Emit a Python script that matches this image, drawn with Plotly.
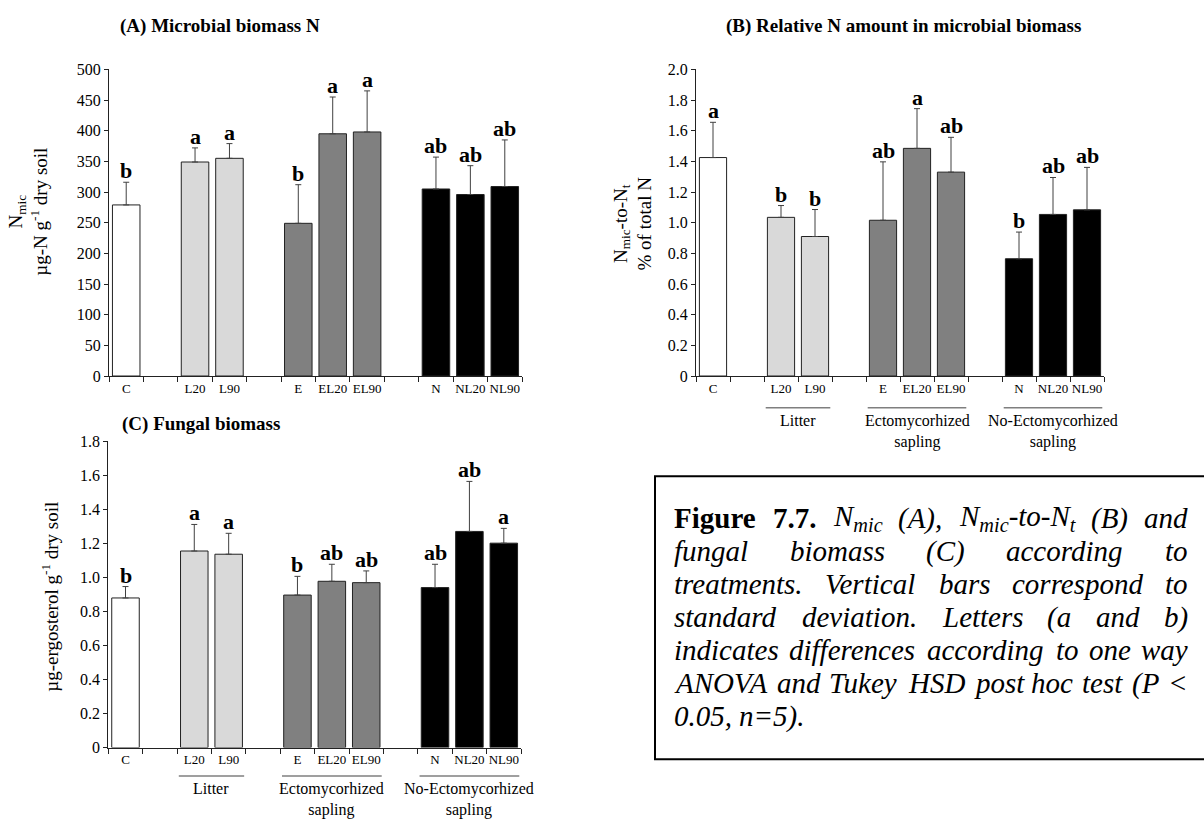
import plotly.graph_objects as go

# ---------------- data ----------------
categories = ["C", " ", "L20", "L90", "  ", "E", "EL20", "EL90", "   ", "N", "NL20", "NL90"]
treatments = ["C", "L20", "L90", "E", "EL20", "EL90", "N", "NL20", "NL90"]
bar_colors = ["#ffffff", "#d9d9d9", "#d9d9d9", "#808080", "#808080", "#808080",
              "#000000", "#000000", "#000000"]

nmic_mean = [279, 349, 355, 249, 395, 398, 305, 296, 309]
nmic_sd = [37, 23, 24, 63, 60, 67, 52, 47, 76]
nmic_letters = ["b", "a", "a", "b", "a", "a", "ab", "ab", "ab"]

ratio_mean = [1.425, 1.035, 0.91, 1.016, 1.485, 1.33, 0.765, 1.054, 1.084]
ratio_sd = [0.23, 0.077, 0.176, 0.381, 0.259, 0.227, 0.174, 0.241, 0.277]
ratio_letters = ["a", "b", "b", "ab", "a", "ab", "b", "ab", "ab"]

erg_mean = [0.879, 1.155, 1.136, 0.896, 0.977, 0.969, 0.940, 1.270, 1.201]
erg_sd = [0.067, 0.156, 0.123, 0.110, 0.100, 0.069, 0.137, 0.294, 0.087]
erg_letters = ["b", "a", "a", "b", "ab", "ab", "ab", "ab", "a"]

groups = [("Litter", ["L20", "L90"]),
          ("Ectomycorhized<br>sapling", ["E", "EL20", "EL90"]),
          ("No-Ectomycorhized<br>sapling", ["N", "NL20", "NL90"])]

ticks_A = [0, 50, 100, 150, 200, 250, 300, 350, 400, 450, 500]
ticklabels_A = ["0", "50", "100", "150", "200", "250", "300", "350", "400", "450", "500"]
ticks_B = [0, 0.2, 0.4, 0.6, 0.8, 1.0, 1.2, 1.4, 1.6, 1.8, 2.0]
ticklabels_B = ["0", "0.2", "0.4", "0.6", "0.8", "1.0", "1.2", "1.4", "1.6", "1.8", "2.0"]
ticks_C = [0, 0.2, 0.4, 0.6, 0.8, 1.0, 1.2, 1.4, 1.6, 1.8]
ticklabels_C = ["0", "0.2", "0.4", "0.6", "0.8", "1.0", "1.2", "1.4", "1.6", "1.8"]

# ---------------- layout helpers ----------------
W, H = 1204, 830
FONT = "Liberation Serif"


def px(x):
    return x / W


def py(y):
    return 1 - y / H


panels = [
    dict(idx="", mean=nmic_mean, sd=nmic_sd, letters=nmic_letters,
         xd=(109, 522), yd=(375.7, 62.7), rng=[0, 500], tv=ticks_A, tt=ticklabels_A,
         title="(A) Microbial biomass N", title_xy=(220, 18),
         ytitle="N<sub>mic</sub><br>µg-N g<sup>-1</sup> dry soil", ytitle_xy=(28, 208),
         groups=False, group_line_y=None),
    dict(idx="2", mean=ratio_mean, sd=ratio_sd, letters=ratio_letters,
         xd=(696, 1104), yd=(375.7, 62.7), rng=[0, 2.0], tv=ticks_B, tt=ticklabels_B,
         title="(B) Relative N amount in microbial biomass", title_xy=(903, 18),
         ytitle="N<sub>mic</sub>-to-N<sub>t</sub><br>% of total N", ytitle_xy=(633, 220),
         groups=True, group_line_y=408),
    dict(idx="3", mean=erg_mean, sd=erg_sd, letters=erg_letters,
         xd=(108.3, 521), yd=(755, 442.3), rng=[0, 1.8], tv=ticks_C, tt=ticklabels_C,
         title="(C) Fungal biomass", title_xy=(201, 425),
         ytitle="µg-ergosterol g<sup>-1</sup> dry soil", ytitle_xy=(50, 601),
         groups=True, group_line_y=784),
]

fig = go.Figure()
annotations = []
shapes = []
layout_axes = {}

for p in panels:
    i = p["idx"]
    xname, yname = "x" + i, "y" + i
    fig.add_trace(go.Bar(
        x=treatments, y=p["mean"], xaxis=xname, yaxis=yname,
        marker=dict(color=bar_colors, line=dict(color="#222222", width=1)),
        error_y=dict(type="data", symmetric=False, array=p["sd"],
                     arrayminus=[0] * len(p["sd"]),
                     color="#404040", thickness=1, width=3),
        showlegend=False, hoverinfo="skip"))

    layout_axes["xaxis" + i] = dict(
        domain=[px(p["xd"][0]), px(p["xd"][1])], anchor=yname,
        type="category", categoryorder="array", categoryarray=categories,
        range=[-0.5, len(categories) - 0.5],
        tickson="boundaries", ticks="outside", ticklen=5, tickcolor="#222222",
        tickangle=0,
        showline=True, linecolor="#222222", linewidth=1, showgrid=False,
        tickfont=dict(family=FONT, size=13, color="black"), fixedrange=True)
    layout_axes["yaxis" + i] = dict(
        domain=[py(p["yd"][0]), py(p["yd"][1])], anchor=xname,
        range=p["rng"], tickvals=p["tv"], ticktext=p["tt"],
        ticks="outside", ticklen=4, tickcolor="#222222",
        showline=True, linecolor="#222222", linewidth=1,
        showgrid=False, zeroline=False,
        tickfont=dict(family=FONT, size=16, color="black"), fixedrange=True)

    # significance letters
    for k, t in enumerate(treatments):
        annotations.append(dict(
            x=categories.index(t), y=p["mean"][k] + p["sd"][k], xref=xname, yref=yname,
            text="<b>%s</b>" % p["letters"][k], showarrow=False, yanchor="bottom",
            xanchor="center", yshift=-3, font=dict(family=FONT, size=22, color="black")))

    # panel title
    annotations.append(dict(
        x=px(p["title_xy"][0]), y=py(p["title_xy"][1]), xref="paper", yref="paper",
        xanchor="center", yanchor="middle",
        text="<b>%s</b>" % p["title"], showarrow=False,
        font=dict(family=FONT, size=19, color="black")))

    # y-axis title
    annotations.append(dict(
        x=px(p["ytitle_xy"][0]), y=py(p["ytitle_xy"][1]), xref="paper", yref="paper",
        xanchor="center", yanchor="middle",
        text=p["ytitle"], showarrow=False, textangle=-90,
        font=dict(family=FONT, size=19, color="black")))

    # group labels with underline
    if p["groups"]:
        for gname, members in groups:
            i0 = categories.index(members[0]) - 0.45
            i1 = categories.index(members[-1]) + 0.45
            shapes.append(dict(type="line", xref=xname, yref="paper",
                               x0=i0, x1=i1, y0=py(p["group_line_y"]), y1=py(p["group_line_y"]),
                               line=dict(color="#7f7f7f", width=1.5)))
            annotations.append(dict(
                x=(i0 + i1) / 2, y=py(p["group_line_y"] + 3), xref=xname, yref="paper",
                text=gname, showarrow=False, yanchor="top", xanchor="center", borderpad=0,
                font=dict(family=FONT, size=16, color="black")))

# ---------------- caption box (justified text) ----------------
TI = {" ": 250, "(": 333, ")": 333, ",": 250, "-": 333, ".": 250, "0": 500, "5": 500,
      "7": 500, "<": 675, "=": 675, "A": 611, "B": 611, "C": 667, "D": 722, "F": 611,
      "H": 722, "L": 556, "N": 667, "O": 722, "P": 611, "S": 500, "T": 556, "V": 611,
      "a": 500, "b": 500, "c": 444, "d": 500, "e": 444, "f": 278, "g": 500, "h": 500,
      "i": 278, "k": 444, "l": 278, "m": 722, "n": 500, "o": 500, "p": 500, "r": 389,
      "s": 389, "t": 278, "u": 500, "v": 444, "w": 667, "y": 444, "z": 389}
TB = {" ": 250, "F": 611, "i": 278, "g": 500, "u": 556, "r": 444, "e": 444, "7": 500, ".": 250}

CAP_SIZE = 29


def seg_width(text, style):
    table = TB if style == "b" else TI
    w = sum(table.get(ch, 500) for ch in text) / 1000.0 * CAP_SIZE
    return w * 0.7 if style == "s" else w


def seg_html(text, style):
    if style == "b":
        return "<b>%s</b>" % text
    if style == "s":
        return "<sub><i>%s</i></sub>" % text
    return "<i>%s</i>" % text


def plain(word):
    return [(word, "i")]


caption_lines = [
    [[("Figure", "b")], [("7.7.", "b")], [("N", "i"), ("mic", "s")], plain("(A),"),
     [("N", "i"), ("mic", "s"), ("-to-N", "i"), ("t", "s")], plain("(B)"), plain("and")],
    [plain(w) for w in "fungal biomass (C) according to".split()],
    [plain(w) for w in "treatments. Vertical bars correspond to".split()],
    [plain(w) for w in "standard deviation. Letters (a and b)".split()],
    [plain(w) for w in "indicates differences according to one way".split()],
    [plain(w) for w in "ANOVA and Tukey HSD post hoc test (P <".split()],
    [plain(w) for w in "0.05, n=5).".split()],
]

CAP_L, CAP_R = 673, 1187
BASE0, STEP = 530, 33.7
for li, words in enumerate(caption_lines):
    widths = [sum(seg_width(t, s) for t, s in w) for w in words]
    justify = li < len(caption_lines) - 1 and len(words) > 1
    gap = (CAP_R - CAP_L - sum(widths)) / (len(words) - 1) if justify else CAP_SIZE * 0.25
    xcur = CAP_L
    yc = BASE0 + li * STEP - 9
    for w, wd in zip(words, widths):
        annotations.append(dict(
            x=px(xcur), y=py(yc), xref="paper", yref="paper", xanchor="left",
            yanchor="middle", borderpad=0,
            text="".join(seg_html(t, s) for t, s in w), showarrow=False,
            font=dict(family=FONT, size=CAP_SIZE, color="black")))
        xcur += wd + gap

shapes.append(dict(type="rect", xref="paper", yref="paper",
                   x0=px(655), x1=px(1230), y0=py(767), y1=py(478),
                   line=dict(color="black", width=2), fillcolor="rgba(0,0,0,0)"))

fig.update_layout(
    width=W, height=H, margin=dict(l=0, r=0, t=0, b=0),
    paper_bgcolor="white", plot_bgcolor="white",
    bargap=0.2, showlegend=False,
    font=dict(family=FONT, color="black"),
    annotations=annotations, shapes=shapes, **layout_axes)

PIN_JS = """
document.documentElement.style.cssText = 'margin:0;padding:0;overflow:hidden;';
document.body.style.cssText = 'margin:0;padding:0;overflow:hidden;';
var gd = document.getElementsByClassName('plotly-graph-div')[0];
gd.style.position = 'fixed'; gd.style.left = '0px'; gd.style.top = '0px';
"""

fig.write_html("out.html", config={"displayModeBar": False}, post_script=PIN_JS)
